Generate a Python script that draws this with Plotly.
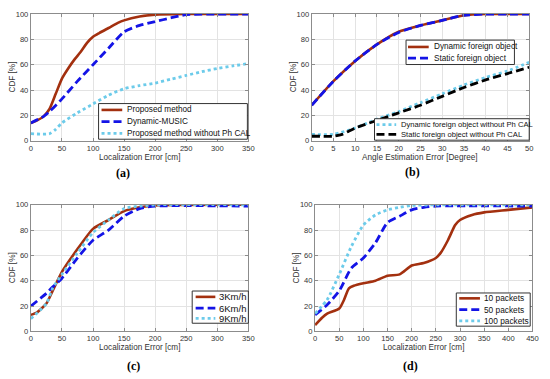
import plotly.graph_objects as go

W, H = 550, 379

# ---------------- data ----------------
# (a) Localization error CDF
a_prop_x = [0, 10, 20, 30, 40, 50, 60, 70, 80, 90, 100, 110, 125, 140, 150, 175, 200, 250, 350]
a_prop_y = [14, 16, 19, 25, 37, 49, 57, 64, 70, 77, 82, 85, 89, 93, 95, 98, 99.5, 100, 100]
a_music_x = [0, 20, 30, 50, 75, 100, 125, 150, 175, 200, 225, 250, 350]
a_music_y = [14, 19, 23, 33, 47, 60, 73, 86, 91, 94, 97, 99.5, 100]
a_noc_x = [0, 30, 40, 50, 75, 100, 125, 150, 175, 200, 225, 250, 275, 300, 325, 350]
a_noc_y = [5.5, 5.5, 9, 14, 22, 29, 36, 41, 43.5, 45.5, 48.5, 51.5, 54.5, 57, 59, 61]

# (b) Angle estimation error CDF
b_x = [0, 5, 10, 15, 20, 25, 30, 35, 40, 45, 50]
b_dyn_y = [28, 47, 63, 76, 86, 91, 95, 99, 100, 100, 100]
b_sta_y = [28, 47, 63, 76, 85.5, 91, 95, 99, 100, 100, 100]
b_dyn_noc_x = [0, 5, 10, 15, 20, 25, 30, 35, 40, 45, 50]
b_dyn_noc_y = [5, 5, 10, 17, 23, 30, 37, 44, 50, 55, 62]
b_sta_noc_x = [0, 2, 5, 7, 10, 15, 20, 25, 30, 35, 40, 45, 50]
b_sta_noc_y = [3.5, 3.5, 3.5, 5, 10, 16, 22, 28, 35, 42, 48, 53, 58]

# (c) speed comparison
c_3_x = [0, 10, 25, 35, 50, 75, 100, 125, 150, 175, 200, 350]
c_3_y = [13, 15, 22, 32, 47, 65, 81, 88, 95, 98, 99.5, 100]
c_6_x = [0, 25, 35, 50, 75, 100, 125, 150, 175, 200, 350]
c_6_y = [20, 30, 35, 42, 58, 72, 80, 91, 97, 99, 99]
c_9_x = [0, 25, 35, 50, 75, 100, 125, 150, 175, 200, 350]
c_9_y = [10, 22, 34, 45, 62, 78, 88, 97, 99, 100, 100]

# (d) packets comparison
d_10_x = [0, 15, 25, 50, 60, 70, 80, 100, 125, 150, 175, 200, 225, 250, 260, 275, 290, 300, 325, 350, 400, 450]
d_10_y = [5, 11, 14, 18, 25, 34, 36, 38, 40, 44, 45, 52, 54, 58, 62, 72, 84, 88, 92, 94, 96, 98]
d_50_x = [0, 25, 50, 75, 100, 125, 150, 175, 200, 225, 250, 450]
d_50_y = [13, 21, 32, 50, 58, 70, 86, 91, 96, 98, 99, 99]
d_100_x = [0, 25, 50, 75, 100, 125, 150, 175, 200, 450]
d_100_y = [14, 25, 45, 67, 84, 92, 96, 98, 99.5, 100]

x_titles = ["Localization Error [cm]", "Angle Estimation Error [Degree]",
            "Localization Error [cm]", "Localization Error [cm]"]
y_title = "CDF [%]"
panel_labels = ["(a)", "(b)", "(c)", "(d)"]

# ---------------- style ----------------
RED = "#A3300F"
BLUE = "#1414E6"
CYAN = "#6CCBEA"
BLACK = "#000000"
FONT = "Liberation Sans, Arial"
DASH = "8px,4px"
DOT = "3px,3px"

STY = {
    "red": dict(color=RED, dash="solid", width=2.6),
    "blue": dict(color=BLUE, dash=DASH, width=2.8),
    "cyan": dict(color=CYAN, dash=DOT, width=2.8),
    "black": dict(color=BLACK, dash=DASH, width=2.8),
}

# series per panel: (x, y, name, style, legend-group index)
panels = [
    [(a_prop_x, a_prop_y, "Proposed method", "red", 0),
     (a_music_x, a_music_y, "Dynamic-MUSIC", "blue", 0),
     (a_noc_x, a_noc_y, "Proposed method without Ph CAL", "cyan", 0)],
    [(b_x, b_dyn_y, "Dynamic foreign object", "red", 1),
     (b_x, b_sta_y, "Static foreign object", "blue", 1),
     (b_dyn_noc_x, b_dyn_noc_y, "Dynamic foreign object without Ph CAL", "cyan", 2),
     (b_sta_noc_x, b_sta_noc_y, "Static foreign object without Ph CAL", "black", 2)],
    [(c_3_x, c_3_y, "3Km/h", "red", 3),
     (c_6_x, c_6_y, "6Km/h", "blue", 3),
     (c_9_x, c_9_y, "9Km/h", "cyan", 3)],
    [(d_10_x, d_10_y, "10 packets", "red", 4),
     (d_50_x, d_50_y, "50 packets", "blue", 4),
     (d_100_x, d_100_y, "100 packets", "cyan", 4)],
]

# panel pixel boxes: left, right, top, bottom
boxes = [(29.3, 250, 10.3, 140), (314.3, 535, 10.3, 140),
         (29.3, 250, 205.7, 335.3), (317.7, 538.3, 205.7, 335.3)]
xranges = [([0, 350], 50), ([0, 50], 5), ([0, 350], 50), ([0, 450], 50)]

# legend boxes (pixels): left, top, right, bottom, row-centres, swatch x0, x1, text x, font size
legends = [
    (98, 102, 249, 138.5, [108.5, 120.5, 132.5], 101, 122, 124.5, 8.2),
    (410, 37, 520, 62, [44, 55.5], 412, 433, 436, 8.2),
    (378, 117.5, 535, 139.5, [123.5, 133.5], 380, 400, 403, 7.6),
    (193, 294, 250, 327, [300, 311.5, 322], 196.5, 216.5, 218.5, 9.5),
    (461, 296, 536, 330, [301.5, 313, 324.5], 464, 485, 487, 8.3),
]

def fx(p):
    return p / W

def fy(p):
    return 1 - p / H

fig = go.Figure()
legend_items = {i: [] for i in range(len(legends))}

for i, series in enumerate(panels):
    sx = "" if i == 0 else str(i + 1)
    for x, y, name, sty, lg in series:
        s = STY[sty]
        fig.add_trace(go.Scatter(
            x=x, y=y, name=name, mode="lines", showlegend=False,
            line=dict(color=s["color"], dash=s["dash"], width=s["width"],
                      shape="spline", smoothing=0.6),
            xaxis="x" + sx, yaxis="y" + sx))
        legend_items[lg].append((name, s))

axis_common = dict(
    showgrid=True, gridcolor="#E3E3E3", gridwidth=1,
    showline=True, linecolor="#8C8C8C", linewidth=1, mirror="ticks",
    ticks="inside", ticklen=3, tickcolor="#8C8C8C",
    zeroline=False, tickfont=dict(family=FONT, size=7.6, color="#333333"),
)

layout = {}
annotations = []
shapes = []
for i in range(4):
    l, r, t, b = boxes[i]
    sx = "" if i == 0 else str(i + 1)
    layout["xaxis" + sx] = dict(axis_common, domain=[fx(l), fx(r)], anchor="y" + sx,
                                range=xranges[i][0], dtick=xranges[i][1])
    layout["yaxis" + sx] = dict(axis_common, domain=[fy(b), fy(t)], anchor="x" + sx,
                                range=[0, 100], dtick=20)
    cx = (l + r) / 2
    annotations.append(dict(text=x_titles[i], x=fx(cx), y=fy(b + 17), xref="paper", yref="paper",
                            showarrow=False, xanchor="center", yanchor="middle",
                            font=dict(family=FONT, size=8.2, color="#333333")))
    annotations.append(dict(text=y_title, x=fx(l - 19), y=fy((t + b) / 2), xref="paper", yref="paper",
                            showarrow=False, xanchor="center", yanchor="middle", textangle=-90,
                            font=dict(family=FONT, size=8.2, color="#333333")))

label_pos = [(123, 173), (417, 172), (133, 371), (415, 371)]
for txt, (x, y) in zip(panel_labels, label_pos):
    annotations.append(dict(text="<b>%s</b>" % txt, x=fx(x), y=fy(y), xref="paper", yref="paper",
                            showarrow=False, xanchor="center", yanchor="middle",
                            font=dict(family="Liberation Serif", size=12, color="black")))

# hand-drawn legends (compact, MATLAB style)
for k, (l, t, r, b, rows, s0, s1, tx, fs) in enumerate(legends):
    shapes.append(dict(type="rect", xref="paper", yref="paper",
                       x0=fx(l), x1=fx(r), y0=fy(b), y1=fy(t),
                       fillcolor="white", line=dict(color="#333333", width=1), layer="above"))
    for (name, s), ry in zip(legend_items[k], rows):
        shapes.append(dict(type="line", xref="paper", yref="paper",
                           x0=fx(s0), x1=fx(s1), y0=fy(ry), y1=fy(ry), layer="above",
                           line=dict(color=s["color"], width=s["width"],
                                     dash=s["dash"])))
        annotations.append(dict(text=name, x=fx(tx), y=fy(ry), xref="paper", yref="paper",
                                showarrow=False, xanchor="left", yanchor="middle",
                                font=dict(family=FONT, size=fs, color="#111111")))

fig.update_layout(
    width=W, height=H, margin=dict(l=0, r=0, t=0, b=0),
    paper_bgcolor="white", plot_bgcolor="white",
    showlegend=False, annotations=annotations, shapes=shapes, **layout)

fig.write_html("out.html", post_script="document.body.style.margin='0';",
               config={"displayModeBar": False})
